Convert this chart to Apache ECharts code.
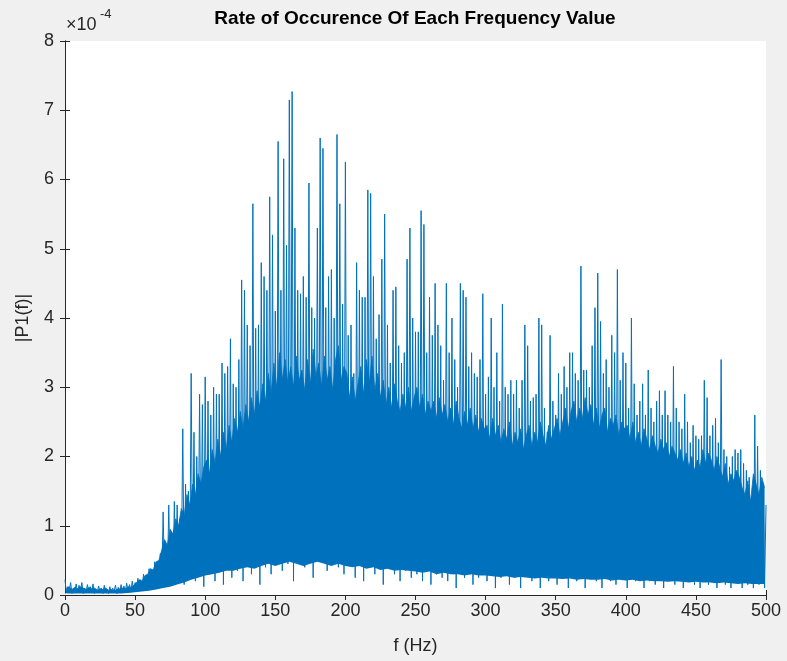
<!DOCTYPE html>
<html>
<head>
<meta charset="utf-8">
<script src="https://cdn.jsdelivr.net/npm/echarts@6/dist/echarts.min.js"></script>
<style>
html,body{margin:0;padding:0;background:#F0F0F0;}
#chart{width:787px;height:661px;}
</style>
</head>
<body>
<div id="chart"></div>
<script>
// Values in units of 1e-4 (axis shows "x10^-4")
// Spike tops, sampled at even frequencies 0,2,4,...,500 Hz (split per 100 Hz)
const peaks0_98 = [0.22,0.12,0.18,0.10,0.16,0.14,0.18,0.10,0.15,0.12,0.16,0.09,0.13,0.10,0.14,0.08,0.12,0.10,0.14,0.11,0.15,0.13,0.17,0.15,0.20,
  0.18,0.24,0.22,0.30,0.28,0.38,0.35,0.48,0.42,0.60,1.20,0.70,1.30,0.85,1.35,1.30,1.10,2.40,1.60,1.50,3.20,2.35,2.00,2.90,2.75];
const peaks100_198 = [3.15,2.80,2.60,3.00,2.90,2.90,3.35,3.20,3.30,3.70,3.05,3.00,3.40,4.55,4.40,3.90,3.60,5.65,3.85,3.90,
  4.80,4.60,4.40,5.75,5.20,4.10,6.55,4.40,6.30,5.05,7.15,7.27,5.30,4.40,4.35,4.60,4.30,5.95,4.15,4.00,
  5.30,6.60,6.45,4.15,4.60,4.70,4.00,6.65,5.65,4.20];
const peaks200_298 = [6.25,3.75,3.90,3.20,4.80,4.40,4.30,4.30,5.85,5.80,4.60,3.70,4.05,4.85,5.50,3.90,3.35,4.40,4.45,3.60,
  3.35,3.50,4.85,5.30,4.00,3.80,3.80,5.55,5.35,3.50,4.30,3.75,4.50,3.90,3.60,3.10,4.50,3.50,4.00,3.40,
  3.00,4.50,4.40,4.30,3.30,3.50,3.20,3.15,3.40,4.35];
const peaks300_398 = [2.90,3.15,4.00,3.00,3.50,2.80,4.20,3.00,2.90,3.10,2.90,3.10,2.70,3.10,3.90,3.60,2.80,2.85,2.90,4.00,
  3.90,2.70,2.35,3.75,2.80,2.60,3.20,2.90,3.30,3.00,3.50,3.50,3.20,3.10,4.75,3.25,3.25,3.00,3.60,4.15,
  4.65,3.95,3.20,3.40,3.00,3.75,3.50,4.70,3.10,3.50];
const peaks400_500 = [3.35,2.70,4.00,3.05,2.60,2.80,3.05,2.60,3.25,2.70,2.50,2.80,2.95,2.60,2.95,2.60,2.50,3.30,2.70,2.50,
  2.40,2.90,2.50,2.20,2.45,2.30,2.25,2.30,3.10,2.85,2.30,2.45,2.55,2.20,3.40,2.10,2.00,1.85,2.00,2.10,
  2.05,2.10,1.90,1.80,1.70,1.15,2.60,2.15,1.80,1.60,1.30];
// Spike bottoms, sampled at odd frequencies 1,3,5,...,499 Hz
const troughs1_99 = [0.03,0.05,0.02,0.06,0.03,0.05,0.02,0.04,0.03,0.05,0.02,0.04,0.03,0.02,0.04,0.02,0.03,0.05,0.02,0.04,0.03,0.05,0.04,0.06,0.05,
  0.07,0.06,0.09,0.08,0.12,0.10,0.14,0.12,0.18,0.15,0.20,0.12,0.25,0.18,0.30,0.22,0.35,0.15,0.40,0.30,0.35,0.20,0.45,0.30,0.12];
const troughs101_199 = [0.40,0.30,0.50,0.20,0.45,0.35,0.15,0.50,0.40,0.25,0.55,0.35,0.45,0.20,0.50,0.60,0.30,0.55,0.45,0.15,0.60,0.40,0.50,0.30,0.65,
  0.50,0.70,0.35,0.60,0.45,0.75,0.20,0.60,0.50,0.70,0.40,0.65,0.55,0.25,0.70,0.50,0.80,0.60,0.35,0.70,0.55,0.75,0.40,0.65,0.30];
const troughs201_299 = [0.60,0.45,0.70,0.25,0.55,0.50,0.20,0.60,0.40,0.65,0.30,0.55,0.45,0.15,0.50,0.40,0.60,0.30,0.50,0.20,0.55,0.35,0.50,0.25,0.45,
  0.30,0.55,0.20,0.45,0.35,0.15,0.50,0.30,0.45,0.25,0.40,0.20,0.50,0.30,0.10,0.45,0.35,0.25,0.50,0.30,0.15,0.40,0.25,0.45,0.35];
const troughs301_399 = [0.20,0.40,0.30,0.10,0.45,0.25,0.40,0.30,0.15,0.40,0.25,0.35,0.10,0.40,0.30,0.45,0.20,0.35,0.25,0.10,0.40,0.30,0.20,0.45,0.30,
  0.15,0.40,0.25,0.35,0.10,0.40,0.30,0.20,0.45,0.30,0.10,0.35,0.25,0.40,0.20,0.35,0.10,0.30,0.40,0.20,0.35,0.15,0.30,0.25,0.40];
const troughs401_499 = [0.10,0.30,0.35,0.20,0.30,0.25,0.10,0.35,0.20,0.30,0.15,0.35,0.25,0.10,0.30,0.20,0.35,0.15,0.30,0.25,0.10,0.30,0.20,0.35,0.15,
  0.30,0.10,0.25,0.30,0.15,0.30,0.20,0.10,0.25,0.30,0.15,0.25,0.10,0.30,0.20,0.25,0.10,0.20,0.15,0.25,0.10,0.20,0.15,0.25,0.10];
// Upper edge of the dense body, at odd frequencies 1,3,...,499 Hz
const body1_99 = [0.10,0.12,0.08,0.11,0.09,0.12,0.10,0.08,0.11,0.09,0.10,0.07,0.09,0.08,0.10,0.07,0.08,0.06,0.08,0.09,0.10,0.09,0.12,0.11,0.14,
  0.18,0.22,0.20,0.28,0.30,0.38,0.36,0.48,0.50,0.65,
  0.80,0.72,0.95,0.88,1.10,1.00,1.25,1.15,1.45,1.30,1.60,1.45,1.75,1.60,1.85];
const body101_199 = [1.95,1.75,2.10,1.90,2.25,2.00,2.35,2.10,2.45,2.20,
  2.55,2.35,2.65,2.40,2.75,2.50,2.85,2.60,2.95,2.70,
  3.05,2.80,3.20,2.90,3.35,3.00,3.50,3.10,3.40,3.05,
  3.30,3.00,3.45,3.10,3.25,2.95,3.40,3.05,3.55,3.15,
  3.35,3.00,3.45,3.10,3.30,2.95,3.40,3.60,3.10,3.30];
const body201_299 = [3.20,2.85,3.15,2.80,3.05,3.30,2.90,3.40,3.05,3.45,
  2.95,3.20,2.85,3.10,2.75,3.00,2.70,3.05,2.80,2.65,
  2.90,2.70,3.00,2.65,2.85,3.00,2.70,2.90,2.60,2.80,
  2.65,2.80,2.55,2.85,2.60,2.75,2.50,2.70,2.45,2.80,
  2.55,2.40,2.65,2.45,2.70,2.40,2.60,2.35,2.55,2.40];
const body301_399 = [2.45,2.25,2.55,2.30,2.45,2.20,2.40,2.25,2.50,2.15,
  2.35,2.20,2.40,2.10,2.30,2.45,2.15,2.35,2.20,2.50,
  2.30,2.15,2.45,2.25,2.40,2.55,2.30,2.50,2.70,2.40,
  2.65,2.80,2.50,2.70,2.55,2.85,2.60,2.75,2.45,2.70,
  2.40,2.60,2.70,2.35,2.55,2.45,2.60,2.30,2.50,2.40];
const body401_499 = [2.45,2.25,2.50,2.20,2.35,2.15,2.40,2.25,2.10,2.30,
  2.15,2.05,2.25,2.10,2.20,2.00,2.15,2.05,1.95,2.10,
  1.90,2.05,1.85,2.00,1.80,1.95,1.85,2.10,1.90,2.05,
  1.95,1.80,2.00,1.85,1.70,1.90,1.60,1.75,1.65,1.80,
  1.70,1.55,1.45,1.65,1.35,1.75,1.60,1.45,1.70,1.55];
// Lower edge of the dense body, every 5 Hz from 0 to 500
const bodyBottom = [0.02,0.02,0.02,0.02,0.02,0.02,0.02,0.02,0.02,0.03,
  0.04,0.05,0.06,0.08,0.10,0.12,0.15,0.18,0.22,0.25,
  0.28,0.30,0.32,0.35,0.35,0.38,0.40,0.38,0.42,0.45,
  0.42,0.45,0.48,0.45,0.42,0.45,0.48,0.45,0.42,0.45,
  0.42,0.40,0.42,0.38,0.40,0.36,0.38,0.35,0.36,0.35,
  0.34,0.32,0.34,0.30,0.32,0.30,0.30,0.28,0.30,0.28,
  0.28,0.27,0.26,0.27,0.25,0.26,0.25,0.24,0.25,0.24,
  0.24,0.23,0.24,0.22,0.23,0.22,0.22,0.23,0.21,0.22,
  0.21,0.22,0.20,0.21,0.20,0.20,0.19,0.20,0.19,0.18,
  0.19,0.18,0.18,0.17,0.18,0.17,0.16,0.17,0.16,0.16,0.16];

const xTicks = [0,50,100,150,200,250,300,350,400,450,500];
const yTicks = [0,1,2,3,4,5,6,7,8];

const peaks = [].concat(peaks0_98, peaks100_198, peaks200_298, peaks300_398, peaks400_500);
const troughs = [].concat(troughs1_99, troughs101_199, troughs201_299, troughs301_399, troughs401_499);
const body = [].concat(body1_99, body101_199, body201_299, body301_399, body401_499);
const data = [];
for (let i = 0; i < peaks.length; i++) {
  data.push([2 * i, peaks[i]]);
  if (i < troughs.length) data.push([2 * i + 1, troughs[i]]);
}
const topData = body.map((v, i) => [2 * i + 1, v]);
const bottomData = bodyBottom.map((v, i) => [5 * i, v]);

const FONT = 'Liberation Sans, Arial, Helvetica, sans-serif';
const AX = '#262626';
const BLUE = '#0072BD';
const chart = echarts.init(document.getElementById('chart'), null, {renderer: 'canvas'});
const axisCommon = {
  axisLine: {show: true, lineStyle: {color: AX, width: 1}},
  axisTick: {show: true, inside: true, length: 5, lineStyle: {color: AX}},
  splitLine: {show: false}
};
chart.setOption({
  animation: false,
  backgroundColor: '#F0F0F0',
  title: {
    text: 'Rate of Occurence Of Each Frequency Value',
    left: 415, top: 9, textAlign: 'center', padding: 0,
    textStyle: {fontFamily: FONT, fontWeight: 'bold', fontSize: 19, color: '#000'}
  },
  grid: {left: 65, right: 21, top: 41, bottom: 66, show: true, backgroundColor: '#fff', borderWidth: 0},
  xAxis: [
    Object.assign({}, axisCommon, {
      type: 'value', min: xTicks[0], max: xTicks[xTicks.length - 1], interval: 50, position: 'bottom',
      name: 'f (Hz)', nameLocation: 'middle', nameGap: 42,
      nameTextStyle: {fontFamily: FONT, fontSize: 18, color: AX},
      axisLabel: {fontFamily: FONT, fontSize: 18, color: AX, margin: 7}
    }),
    Object.assign({}, axisCommon, {
      type: 'value', min: xTicks[0], max: xTicks[xTicks.length - 1], interval: 50, position: 'top',
      axisLabel: {show: false}
    })
  ],
  yAxis: [
    Object.assign({}, axisCommon, {
      type: 'value', min: yTicks[0], max: yTicks[yTicks.length - 1], interval: 1, position: 'left',
      name: '|P1(f)|', nameLocation: 'middle', nameGap: 33, nameRotate: 90,
      nameTextStyle: {fontFamily: FONT, fontSize: 18, color: AX},
      axisLabel: {fontFamily: FONT, fontSize: 18, color: AX, margin: 11}
    }),
    Object.assign({}, axisCommon, {
      type: 'value', min: yTicks[0], max: yTicks[yTicks.length - 1], interval: 1, position: 'right',
      axisLabel: {show: false}
    })
  ],
  graphic: [
    {type: 'text', left: 66, top: 16, style: {text: '×10', fontFamily: FONT, fontSize: 18, fill: AX}},
    {type: 'text', left: 100, top: 8, style: {text: '-4', fontFamily: FONT, fontSize: 13, fill: AX}}
  ],
  series: [
    {
      type: 'line', data: topData, showSymbol: false, symbol: 'none', z: 1,
      lineStyle: {color: BLUE, width: 0.8}, areaStyle: {color: BLUE, opacity: 1}, silent: true
    },
    {
      type: 'line', data: bottomData, showSymbol: false, symbol: 'none', z: 2,
      lineStyle: {width: 0}, areaStyle: {color: '#ffffff', opacity: 1}, silent: true
    },
    {
      type: 'line', data: data, showSymbol: false, symbol: 'none', z: 3,
      lineStyle: {color: BLUE, width: 1}, silent: true
    }
  ]
});
</script>
</body>
</html>
